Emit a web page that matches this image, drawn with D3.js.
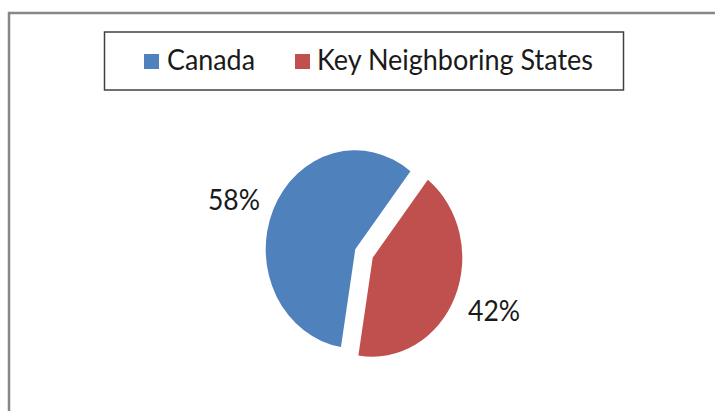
<!DOCTYPE html>
<html>
<head>
<meta charset="utf-8">
<script src="https://cdn.jsdelivr.net/npm/d3@7"></script>
<style>
  html, body { margin: 0; padding: 0; background: #fff; }
  svg { display: block; }
</style>
</head>
<body>
<svg id="chart" width="715" height="411"></svg>
<script>
// ---- data ----
const categories = ["Canada", "Key Neighboring States"];
const values = [58, 42];
const colors = ["#4F81BD", "#C0504D"];
const labelText = values.map(v => v + "%");

// ---- layout ----
const W = 715, H = 411;
const svg = d3.select("#chart");
const font = "Lato, 'Open Sans', 'Liberation Sans', sans-serif";

// outer frame (top + left visible)
svg.append("path")
  .attr("d", `M9,${H} L9,13 L${W},13`)
  .attr("fill", "none")
  .attr("stroke", "#878787")
  .attr("stroke-width", 2.5);

// legend box
svg.append("rect")
  .attr("x", 104.5).attr("y", 32)
  .attr("width", 519).attr("height", 58)
  .attr("fill", "#fff")
  .attr("stroke", "#404040")
  .attr("stroke-width", 1.5);

const legendItems = [
  { sx: 144, tx: 167, tw: 88 },
  { sx: 295, tx: 317, tw: 276 }
];
const legend = svg.append("g");
categories.forEach((c, i) => {
  legend.append("rect")
    .attr("x", legendItems[i].sx).attr("y", 54)
    .attr("width", 15).attr("height", 15)
    .attr("fill", colors[i]);
  legend.append("text")
    .attr("x", legendItems[i].tx).attr("y", 70)
    .attr("font-family", font)
    .attr("font-size", 28)
    .attr("fill", "#1a1a1a")
    .attr("textLength", legendItems[i].tw)
    .attr("lengthAdjust", "spacingAndGlyphs")
    .text(c);
});

// ---- pie ----
const cx = 364, cy = 253.5, R = 99, sx = 0.905, explode = 10.5;
const deg = Math.PI / 180;
const pie = d3.pie().sort(null)
  .startAngle(189.2 * deg)
  .endAngle((189.2 + 360) * deg);
const arcs = pie(values);
const arc = d3.arc().innerRadius(0).outerRadius(R);

const g = svg.append("g")
  .attr("transform", `translate(${cx},${cy}) scale(${sx},1)`);

g.selectAll("path.slice")
  .data(arcs)
  .join("path")
  .attr("class", "slice")
  .attr("d", arc)
  .attr("fill", (d, i) => colors[i])
  .attr("transform", d => {
    const a = (d.startAngle + d.endAngle) / 2;
    return `translate(${Math.sin(a) * explode},${-Math.cos(a) * explode})`;
  });

// data labels
const labelR = 154;
const labelWidths = [52, 52];
svg.selectAll("text.lbl")
  .data(arcs)
  .join("text")
  .attr("class", "lbl")
  .attr("x", d => {
    const a = (d.startAngle + d.endAngle) / 2 - 2.5 * deg;
    return cx + Math.sin(a) * labelR * sx;
  })
  .attr("y", d => {
    const a = (d.startAngle + d.endAngle) / 2 - 2.5 * deg;
    return cy - Math.cos(a) * labelR + 12;
  })
  .attr("text-anchor", "middle")
  .attr("font-family", font)
  .attr("font-size", 28)
  .attr("fill", "#1a1a1a")
  .attr("textLength", (d, i) => labelWidths[i])
  .attr("lengthAdjust", "spacingAndGlyphs")
  .text((d, i) => labelText[i]);
</script>
</body>
</html>
